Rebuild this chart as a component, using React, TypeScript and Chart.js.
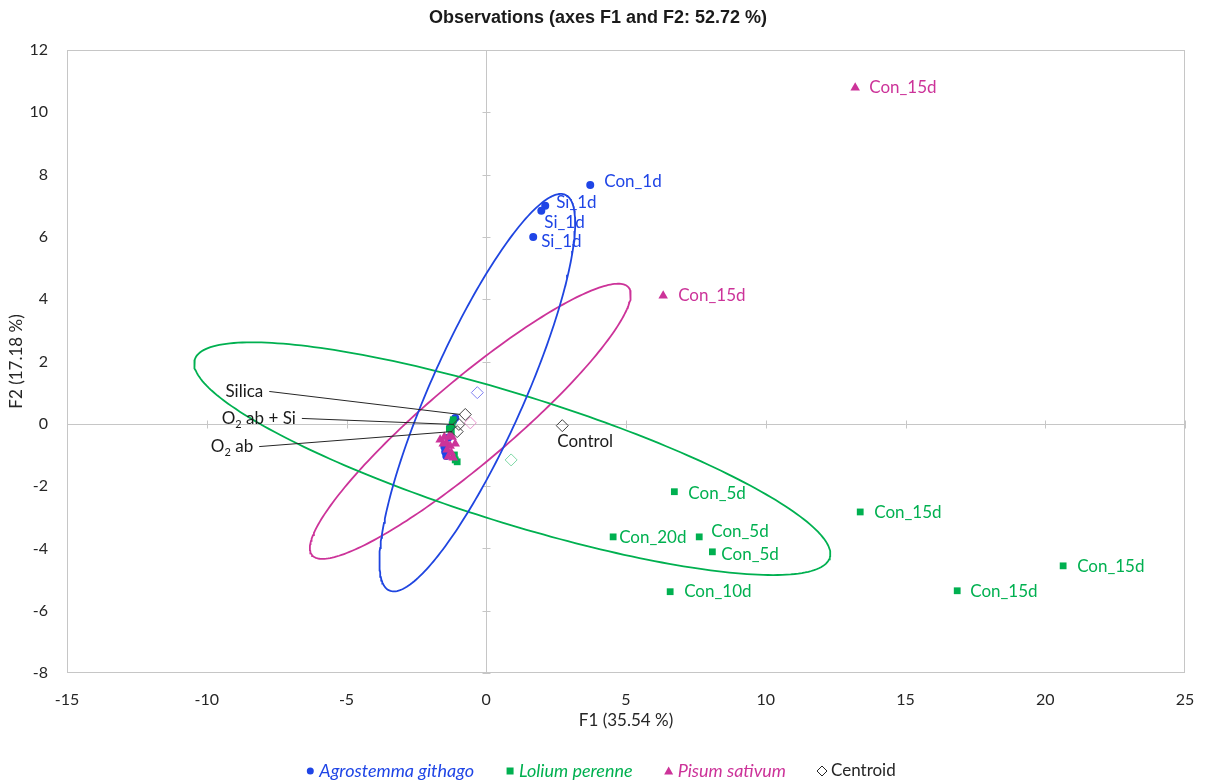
import React, { useEffect, useRef } from "react";
import { Chart, registerables } from "chart.js";

Chart.register(...registerables);

// ---------- Data ----------
const xTickValues = [-15, -10, -5, 0, 5, 10, 15, 20, 25];
const yTickValues = [-8, -6, -4, -2, 0, 2, 4, 6, 8, 10, 12];

const agroX = [3.72, 2.11, 1.97, 1.68, -1.11, -1.18, -1.29, -1.36, -1.47, -1.43, -1.5];
const agroY = [7.67, 7.0, 6.84, 6.0, 0.19, 0.1, -0.13, -0.45, -0.9, -1.03, -0.74];
const agroLabels = ["Con_1d", "Si_1d", "Si_1d", "Si_1d", "", "", "", "", "", "", ""];
const agroLabelOffsets = [[14, -3], [11, -3], [3, 12], [8, 5], [0, 0], [0, 0], [0, 0], [0, 0], [0, 0], [0, 0], [0, 0]];

const loliX = [6.73, 13.38, 4.54, 7.62, 8.09, 6.58, 16.85, 20.64, -1.22, -1.32, -1.25, -1.11, -1.04, -1.14, -1.18];
const loliY = [-2.18, -2.83, -3.63, -3.63, -4.11, -5.39, -5.36, -4.56, -0.03, -0.16, -0.26, -1.16, -1.22, -1.0, 0.13];
const loliLabels = ["Con_5d", "Con_15d", "Con_20d", "Con_5d", "Con_5d", "Con_10d", "Con_15d", "Con_15d", "", "", "", "", "", "", ""];
const loliLabelOffsets = [[14, 2], [14, 1], [6, 1], [12, -5], [9, 3], [14, 0], [13, 1], [14, 1], [0, 0], [0, 0], [0, 0], [0, 0], [0, 0], [0, 0], [0, 0]];

const pisuX = [13.2, 6.33, -1.65, -1.5, -1.32, -1.22, -1.43, -1.29, -1.4, -1.25, -1.36, -1.18, -1.54, -1.11];
const pisuY = [10.79, 4.11, -0.51, -0.42, -0.39, -0.42, -0.61, -0.71, -0.83, -0.93, -1.06, -1.09, -0.64, -0.64];
const pisuLabels = ["Con_15d", "Con_15d", "", "", "", "", "", "", "", "", "", "", "", ""];
const pisuLabelOffsets = [[14, 0], [15, 0], [0, 0], [0, 0], [0, 0], [0, 0], [0, 0], [0, 0], [0, 0], [0, 0], [0, 0], [0, 0], [0, 0], [0, 0]];

const centroidNames = ["Agrostemma githago", "Lolium perenne", "Pisum sativum", "Control", "Silica", "O2 ab + Si", "O2 ab"];
const centroidX = [-0.32, 0.89, -0.57, 2.72, -0.75, -0.98, -1.04];
const centroidY = [1.0, -1.16, 0.03, -0.06, 0.3, -0.02, -0.25];
const centroidColors = ["#8080F2", "#7FD8A6", "#E592CB", "#404040", "#404040", "#404040", "#404040"];
const centroidLabels = ["", "", "", "Control", "Silica", "O2 ab + Si", "O2 ab"];
// label anchor relative to the point (px); leader = draw a line from label to point
const centroidLabelOffsets = [[0, 0], [0, 0], [0, 0], [-5, 16], [-202, -23], [-163, -6], [-204, 15]];
const centroidLeader = [false, false, false, false, true, true, true];

// confidence ellipses: center, end of major semi-axis, end of minor semi-axis (data units)
const ellipseCenters = [[-0.32, 1.0], [0.93, -1.12], [-0.57, 0.08]];
const ellipseMajorEnds = [[2.83, 7.35], [12.29, -4.3], [5.09, 4.38]];
const ellipseMinorEnds = [[1.21, 0.38], [1.61, 0.84], [0.39, -0.93]];
const ellipseColors = ["#1F45E0", "#00B050", "#CC3399"];

const BLUE = "#1F45E6";
const GREEN = "#00B050";
const PINK = "#CC3399";

const FONT = "Lato, 'Open Sans', sans-serif";
const LABEL_SIZE = 17;

function ellipsePoints(i: number) {
  const [cx, cy] = ellipseCenters[i];
  const [mx, my] = ellipseMajorEnds[i];
  const [nx, ny] = ellipseMinorEnds[i];
  const pts: { x: number; y: number }[] = [];
  const n = 240;
  for (let k = 0; k <= n; k++) {
    const t = (k / n) * Math.PI * 2;
    const c = Math.cos(t), s = Math.sin(t);
    pts.push({ x: cx + c * (mx - cx) + s * (nx - cx), y: cy + c * (my - cy) + s * (ny - cy) });
  }
  return pts;
}

function toPts(xs: number[], ys: number[]) {
  return xs.map((x, i) => ({ x, y: ys[i] }));
}

function drawSubText(ctx: CanvasRenderingContext2D, text: string, x: number, y: number, align: "left" | "right") {
  // renders "O2" with subscript 2
  const parts: { t: string; sub: boolean }[] = [];
  const idx = text.indexOf("O2");
  if (idx >= 0) {
    if (idx > 0) parts.push({ t: text.slice(0, idx), sub: false });
    parts.push({ t: "O", sub: false });
    parts.push({ t: "2", sub: true });
    parts.push({ t: text.slice(idx + 2), sub: false });
  } else parts.push({ t: text, sub: false });
  const main = `${LABEL_SIZE}px ${FONT}`;
  const small = `11px ${FONT}`;
  let total = 0;
  for (const p of parts) {
    ctx.font = p.sub ? small : main;
    total += ctx.measureText(p.t).width;
  }
  let cx = align === "left" ? x : x - total;
  ctx.textAlign = "left";
  ctx.textBaseline = "middle";
  for (const p of parts) {
    ctx.font = p.sub ? small : main;
    ctx.fillText(p.t, cx, p.sub ? y + 6 : y);
    cx += ctx.measureText(p.t).width;
  }
}

const overlayPlugin = {
  id: "overlay",
  beforeDatasetsDraw(chart: any) {
    const { ctx, chartArea: a, scales } = chart;
    const xs = scales.x, ys = scales.y;
    ctx.save();
    ctx.strokeStyle = "#C6C6C6";
    ctx.lineWidth = 1;
    ctx.strokeRect(a.left + 0.5, a.top + 0.5, a.width - 1, a.height - 1);
    const x0 = Math.round(xs.getPixelForValue(0)) + 0.5;
    const y0 = Math.round(ys.getPixelForValue(0)) + 0.5;
    ctx.beginPath();
    ctx.moveTo(a.left, y0);
    ctx.lineTo(a.right, y0);
    ctx.moveTo(x0, a.top);
    ctx.lineTo(x0, a.bottom);
    for (const v of xTickValues) {
      const px = Math.round(xs.getPixelForValue(v)) + 0.5;
      ctx.moveTo(px, y0 - 4);
      ctx.lineTo(px, y0 + 4);
    }
    for (const v of yTickValues) {
      const py = Math.round(ys.getPixelForValue(v)) + 0.5;
      ctx.moveTo(x0 - 4, py);
      ctx.lineTo(x0 + 4, py);
    }
    ctx.stroke();
    ctx.restore();
  },
  afterDatasetsDraw(chart: any) {
    const { ctx, scales } = chart;
    const xs = scales.x, ys = scales.y;
    ctx.save();
    const series: [number[], number[], string[], number[][], string][] = [
      [agroX, agroY, agroLabels, agroLabelOffsets, BLUE],
      [loliX, loliY, loliLabels, loliLabelOffsets, GREEN],
      [pisuX, pisuY, pisuLabels, pisuLabelOffsets, PINK],
    ];
    ctx.font = `${LABEL_SIZE}px ${FONT}`;
    ctx.textBaseline = "middle";
    ctx.textAlign = "left";
    for (const [X, Y, L, O, col] of series) {
      ctx.fillStyle = col;
      L.forEach((lab, i) => {
        if (!lab) return;
        const px = xs.getPixelForValue(X[i]);
        const py = ys.getPixelForValue(Y[i]);
        ctx.fillText(lab, px + O[i][0], py + O[i][1]);
      });
    }
    // centroid labels
    centroidLabels.forEach((lab, i) => {
      if (!lab) return;
      const px = xs.getPixelForValue(centroidX[i]);
      const py = ys.getPixelForValue(centroidY[i]);
      const lx = px + centroidLabelOffsets[i][0];
      const ly = py + centroidLabelOffsets[i][1];
      ctx.fillStyle = "#1a1a1a";
      if (centroidLeader[i]) {
        drawSubText(ctx, lab, lx, ly, "right");
        ctx.strokeStyle = "#262626";
        ctx.lineWidth = 1;
        ctx.beginPath();
        ctx.moveTo(lx + 6, ly);
        ctx.lineTo(px - 5, py);
        ctx.stroke();
      } else {
        drawSubText(ctx, lab, lx, ly, "left");
      }
    });
    ctx.restore();
  },
  afterDraw(chart: any) {
    const { ctx, chartArea: a } = chart;
    ctx.save();
    // title
    ctx.fillStyle = "#1a1a1a";
    ctx.font = `bold 18px 'Liberation Sans', Arial, sans-serif`;
    ctx.textAlign = "center";
    ctx.textBaseline = "middle";
    ctx.fillText("Observations (axes F1 and F2: 52.72 %)", 598, 18);
    // axis titles
    ctx.font = `17px ${FONT}`;
    ctx.fillStyle = "#262626";
    ctx.fillText("F1 (35.54 %)", (a.left + a.right) / 2, 721);
    ctx.save();
    ctx.translate(17, (a.top + a.bottom) / 2);
    ctx.rotate(-Math.PI / 2);
    ctx.fillText("F2 (17.18 %)", 0, 0);
    ctx.restore();
    // legend
    const items = [
      { name: "Agrostemma githago", color: BLUE, shape: "circle", italic: true },
      { name: "Lolium perenne", color: GREEN, shape: "square", italic: true },
      { name: "Pisum sativum", color: PINK, shape: "triangle", italic: true },
      { name: "Centroid", color: "#262626", shape: "diamond", italic: false },
    ];
    const ly = 771;
    const gap = 32;
    const markerW = 13;
    let total = 0;
    const fontFor = (it: any) => `${it.italic ? "italic 18px" : "17px"} ${FONT}`;
    const widths = items.map((it) => {
      ctx.font = fontFor(it);
      const w = ctx.measureText(it.name).width + markerW;
      total += w;
      return w;
    });
    total += gap * (items.length - 1);
    let x = 601 - total / 2;
    items.forEach((it, i) => {
      const mx = x + 4;
      ctx.fillStyle = it.color;
      ctx.strokeStyle = it.color;
      ctx.beginPath();
      if (it.shape === "circle") {
        ctx.arc(mx, ly, 3.5, 0, Math.PI * 2);
        ctx.fill();
      } else if (it.shape === "square") {
        ctx.fillRect(mx - 3.5, ly - 3.5, 7, 7);
      } else if (it.shape === "triangle") {
        ctx.moveTo(mx, ly - 4.5);
        ctx.lineTo(mx + 4.5, ly + 3.5);
        ctx.lineTo(mx - 4.5, ly + 3.5);
        ctx.closePath();
        ctx.fill();
      } else {
        ctx.lineWidth = 1;
        ctx.moveTo(mx, ly - 5);
        ctx.lineTo(mx + 5, ly);
        ctx.lineTo(mx, ly + 5);
        ctx.lineTo(mx - 5, ly);
        ctx.closePath();
        ctx.stroke();
      }
      ctx.font = fontFor(it);
      ctx.textAlign = "left";
      ctx.textBaseline = "middle";
      ctx.fillStyle = it.color;
      ctx.fillText(it.name, x + markerW, ly);
      x += widths[i] + gap;
    });
    ctx.restore();
  },
};

export default function App() {
  const ref = useRef<HTMLCanvasElement | null>(null);
  useEffect(() => {
    if (!ref.current) return;
    const ellipseDatasets = [0, 1, 2].map((i) => ({
      type: "scatter" as const,
      label: "ellipse" + i,
      data: ellipsePoints(i),
      showLine: true,
      borderColor: ellipseColors[i],
      backgroundColor: ellipseColors[i],
      borderWidth: 1.8,
      pointRadius: 0,
      fill: false,
      order: 10 + i,
    }));
    const chart = new Chart(ref.current, {
      type: "scatter",
      data: {
        datasets: [
          ...ellipseDatasets,
          {
            label: "Agrostemma githago",
            data: toPts(agroX, agroY),
            pointStyle: "circle",
            pointRadius: 4,
            backgroundColor: BLUE,
            borderColor: BLUE,
            borderWidth: 0,
            order: 5,
          },
          {
            label: "Lolium perenne",
            data: toPts(loliX, loliY),
            pointStyle: "rect",
            pointRadius: 4.8,
            backgroundColor: GREEN,
            borderColor: GREEN,
            borderWidth: 0,
            order: 4,
          },
          {
            label: "Pisum sativum",
            data: toPts(pisuX, pisuY),
            pointStyle: "triangle",
            pointRadius: 5.5,
            backgroundColor: PINK,
            borderColor: PINK,
            borderWidth: 0,
            order: 3,
          },
          {
            label: "Centroid",
            data: toPts(centroidX, centroidY),
            pointStyle: "rectRot",
            pointRadius: 6,
            backgroundColor: "rgba(255,255,255,0)",
            borderColor: centroidColors,
            borderWidth: 1,
            order: 1,
          },
        ] as any,
      },
      options: {
        responsive: false,
        animation: false,
        events: [],
        layout: { padding: { left: 0, right: 23, top: 50, bottom: 0 } },
        plugins: {
          legend: { display: false },
          title: { display: false },
          tooltip: { enabled: false },
        },
        scales: {
          x: {
            type: "linear",
            min: -15,
            max: 25,
            afterFit: (s: any) => {
              s.height = 110;
              s.paddingLeft = 0;
              s.paddingRight = 0;
            },
            afterBuildTicks: (s: any) => {
              s.ticks = xTickValues.map((v) => ({ value: v }));
            },
            grid: { display: false, drawTicks: false },
            border: { display: false },
            ticks: {
              padding: 17,
              color: "#262626",
              font: { family: FONT, size: 16 },
            },
          },
          y: {
            type: "linear",
            min: -8,
            max: 12,
            afterFit: (s: any) => {
              s.width = 67;
              s.paddingTop = 0;
              s.paddingBottom = 0;
            },
            afterBuildTicks: (s: any) => {
              s.ticks = yTickValues.map((v) => ({ value: v }));
            },
            grid: { display: false, drawTicks: false },
            border: { display: false },
            ticks: {
              padding: 19,
              color: "#262626",
              font: { family: FONT, size: 16 },
            },
          },
        },
      } as any,
      plugins: [overlayPlugin],
    });
    return () => chart.destroy();
  }, []);
  return (
    <div style={{ position: "fixed", left: 0, top: 0, width: 1208, height: 783, background: "#fff" }}>
      <canvas ref={ref} width={1208} height={783} style={{ display: "block" }} />
    </div>
  );
}
